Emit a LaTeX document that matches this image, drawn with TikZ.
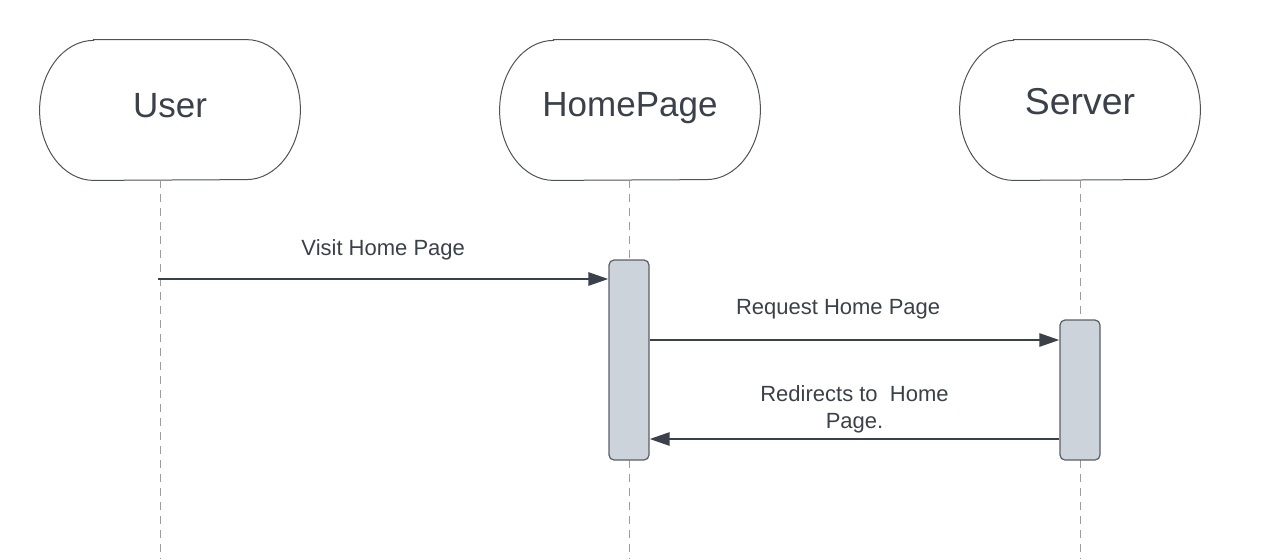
\documentclass[tikz,border=0pt]{standalone}
\usepackage{fontspec}
\setmainfont{Liberation Sans}
\usetikzlibrary{arrows.meta, positioning}
\definecolor{ink}{HTML}{3A414A}
\definecolor{edge}{HTML}{4E5359}
\definecolor{dashgray}{HTML}{9C9C9C}
\definecolor{actfill}{HTML}{CDD3DA}
\definecolor{actedge}{HTML}{5A5F66}
\begin{document}
\begin{tikzpicture}[x=0.5pt, y=-0.5pt]
            \tikzset{
                actor/.style={draw=edge, line width=0.5pt},
                actor_text/.style={text=ink},
                lifeline/.style={draw=dashgray, line width=0.5pt, dash pattern=on 4pt off 3pt},
                activation/.style={draw=actedge, fill=actfill, rounded corners=2.5pt, minimum width=20pt, line width=0.6pt},
                message/.style={draw=ink, line width=1.35pt, -{Triangle[length=10pt,width=6.5pt]}},
                msg_text/.style={text=ink, font=\fontsize{11}{13.5}\selectfont, align=center}
            }
            \useasboundingbox (0,0) rectangle (1264,559);
            \foreach \n/\x/\w/\s/\f/\t in {user/170/130pt/2pt/17.5/User, home/630/130pt/1pt/17.5/HomePage, server/1080/120pt/4pt/18.7/Server}{
                \node[minimum width=\w, minimum height=70pt, inner sep=0pt] (\n) at (\x,110) {};
                \draw[actor] ([xshift=27pt]\n.north west) -- ([xshift=-27pt]\n.north east)
                    arc[start angle=90, end angle=-90, x radius=27pt, y radius=35pt]
                    -- ([xshift=27pt]\n.south west)
                    arc[start angle=270, end angle=90, x radius=27pt, y radius=35pt] -- cycle;
                \node[actor_text, font=\fontsize{\f}{21}\selectfont] at ([yshift=\s]\n.center) {\t};
            }
            \coordinate (user_end) at (160,559);
            \coordinate (home_end) at (629,559);
            \coordinate (server_end) at (1080,559);
            \draw[lifeline] (user.south -| user_end) -- (user_end);
            \draw[lifeline] (home.south -| home_end) -- (home_end);
            \draw[lifeline] (server.south -| server_end) -- (server_end);
            \node[activation, minimum height=100pt] (home_act) at (629,360) {};
            \node[activation, minimum height=70pt] (server_act) at (1080,390) {};
            \coordinate (visit) at (158,279);
            \draw[message] (visit) -- (visit -| home_act.west) node[msg_text, midway, yshift=14.75pt] {Visit Home Page};
            \draw[message] (home_act.east |- 0,340) -- (server_act.west |- 0,340) node[msg_text, pos=0.46, yshift=15.5pt] {Request Home Page};
            \draw[message] (server_act.west |- 0,439) -- (home_act.east |- 0,439) node[msg_text, midway, yshift=15pt] {Redirects to\ \ Home\\Page.};
        \end{tikzpicture}
\end{document}
